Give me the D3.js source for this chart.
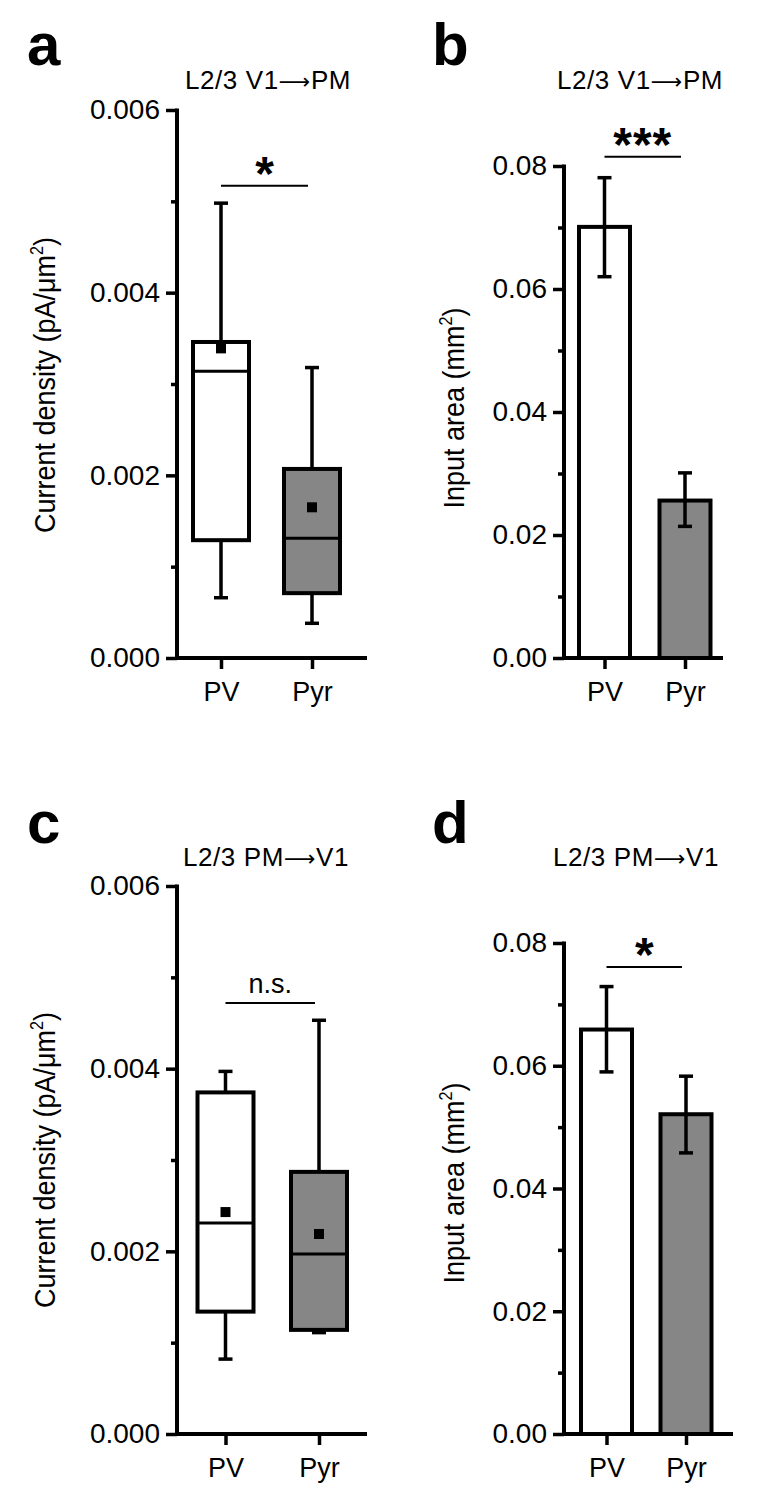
<!DOCTYPE html>
<html><head><meta charset="utf-8">
<script src="https://cdn.jsdelivr.net/npm/d3@7"></script>
<style>body{margin:0;background:#fff} svg{display:block} text{font-family:"Liberation Sans",Arial,sans-serif;fill:#000}</style>
</head><body><svg id="chart" width="759" height="1492"></svg>
<script>
const groups = ["PV", "Pyr"];
// Panel a: box stats (current density, V1->PM)
const aWhiskLow = [0.00066, 0.00038];
const aQ1 = [0.00129, 0.00071];
const aMedian = [0.00314, 0.00131];
const aQ3 = [0.00346, 0.00207];
const aWhiskHigh = [0.00498, 0.00318];
const aMean = [0.00339, 0.00165];
// Panel c: box stats (current density, PM->V1)
const cWhiskLow = [0.00082, 0.00111];
const cQ1 = [0.00134, 0.00114];
const cMedian = [0.00231, 0.00197];
const cQ3 = [0.00374, 0.00287];
const cWhiskHigh = [0.00397, 0.00453];
const cMean = [0.00243, 0.00219];
// Panel b: bars (input area, V1->PM)
const bMean = [0.0701, 0.0256];
const bErrLow = [0.0620, 0.0214];
const bErrHigh = [0.0781, 0.0301];
// Panel d: bars (input area, PM->V1)
const dMean = [0.0659, 0.0521];
const dErrLow = [0.0590, 0.0458];
const dErrHigh = [0.0729, 0.0583];
// Ticks
const densityTicks = [0, 0.002, 0.004, 0.006];
const densityMinor = [0.001, 0.003, 0.005];
const areaTicks = [0, 0.02, 0.04, 0.06, 0.08];
const areaMinor = [0.01, 0.03, 0.05, 0.07];
// Text
const panelLetters = ["a", "b", "c", "d"];
const titleFrom = ["L2/3 V1", "L2/3 V1", "L2/3 PM", "L2/3 PM"];
const titleTo = ["PM", "PM", "V1", "V1"];
const yLabelMain = ["Current density (pA/\u03bcm", "Input area (mm", "Current density (pA/\u03bcm", "Input area (mm"];
const sigLabels = ["*", "***", "n.s.", "*"];
const sigLevels = [0.00517, 0.0815, 0.00472, 0.0761];
const fills = ["#ffffff", "#868686"];

const layout = [
  {left:177,right:367,top:110,bottom:658,pv:221,pyr:312,lx:27,ly:65,tx:268,ty:89,yx:55,yy:385},
  {left:564,right:723,top:166,bottom:658,pv:604.5,pyr:685,lx:432,ly:65,tx:640,ty:89,yx:464,yy:408},
  {left:177,right:367,top:886,bottom:1434,pv:225.5,pyr:319,lx:27,ly:843,tx:266,ty:866,yx:55,yy:1160},
  {left:564,right:733,top:943,bottom:1434,pv:606.5,pyr:686,lx:432,ly:843,tx:636,ty:866,yx:464,yy:1183}
];

const svg = d3.select("#chart");
const SW = 3.5;
const FONT = "Liberation Sans, Arial, sans-serif";

function frame(i, ticks, minor, fmt) {
  const L = layout[i];
  const g = svg.append("g");
  const y = d3.scaleLinear().domain([0, ticks[ticks.length-1]]).range([L.bottom, L.top]);
  const x = d3.scalePoint().domain(groups).range([L.pv, L.pyr]);
  const ya = g.append("g").attr("transform", `translate(${L.left},0)`)
    .call(d3.axisLeft(y).tickValues(ticks).tickSize(11).tickSizeOuter(0).tickPadding(6).tickFormat(d3.format(fmt)));
  ya.select(".domain").remove();
  ya.selectAll("line").attr("stroke-width", SW);
  ya.selectAll("text").attr("font-size", 28).attr("font-family", FONT);
  const ym = g.append("g").attr("transform", `translate(${L.left},0)`)
    .call(d3.axisLeft(y).tickValues(minor).tickSize(6).tickFormat(""));
  ym.select(".domain").remove();
  ym.selectAll("line").attr("stroke-width", SW);
  const xa = g.append("g").attr("transform", `translate(0,${L.bottom})`)
    .call(d3.axisBottom(x).tickSize(11).tickSizeOuter(0).tickPadding(13));
  xa.select(".domain").remove();
  xa.selectAll("line").attr("stroke-width", SW);
  xa.selectAll("text").attr("font-size", 27).attr("font-family", FONT);
  g.append("line").attr("x1", L.left).attr("x2", L.left).attr("y1", y.range()[1] - 1.5).attr("y2", L.bottom)
    .attr("stroke", "#000").attr("stroke-width", 4);
  g.append("line").attr("x1", L.left - 2).attr("x2", L.right).attr("y1", L.bottom).attr("y2", L.bottom)
    .attr("stroke", "#000").attr("stroke-width", 4);
  svg.append("text").attr("x", L.lx).attr("y", L.ly).attr("font-size", 60).attr("font-weight", "bold").text(panelLetters[i]);
  const t = svg.append("text").attr("x", L.tx).attr("y", L.ty).attr("font-size", 26).attr("letter-spacing", 0.6)
    .attr("text-anchor", "middle");
  t.append("tspan").text(titleFrom[i]);
  t.append("tspan").attr("font-family", "DejaVu Sans").attr("font-size", 22).text("\u27f6");
  t.append("tspan").text(titleTo[i]);
  const yl = svg.append("text").attr("transform", `translate(${L.yx},${L.yy}) rotate(-90) scale(0.9,1)`)
    .attr("font-size", 30).attr("text-anchor", "middle");
  yl.append("tspan").text(yLabelMain[i]);
  yl.append("tspan").attr("font-size", 18).attr("dy", -12).text("2");
  yl.append("tspan").attr("dy", 12).text(")");
  const sy = y(sigLevels[i]);
  const x2 = x("Pyr") - 4;
  g.append("line").attr("x1", x("PV")).attr("x2", x2).attr("y1", sy).attr("y2", sy)
    .attr("stroke", "#000").attr("stroke-width", 2);
  const mid = (x("PV") + x2) / 2;
  if (sigLabels[i] === "n.s.") {
    g.append("text").attr("x", mid).attr("y", sy - 10).attr("font-size", 27).attr("text-anchor", "middle").text(sigLabels[i]);
  } else {
    g.append("text").attr("x", mid).attr("y", sy + 4).attr("font-size", 48).attr("font-weight", "bold")
      .attr("letter-spacing", sigLabels[i].length > 1 ? 1 : 0)
      .attr("text-anchor", "middle").text(sigLabels[i]);
  }
  return {g, x, y};
}

function boxPanel(i, lo, q1, med, q3, hi, mean) {
  const {g, x, y} = frame(i, densityTicks, densityMinor, ".3f");
  const bw = 56, cap = 14, ms = 10;
  groups.forEach((k, j) => {
    const cx = x(k);
    const ln = (x1, x2, y1, y2, w) => g.append("line").attr("x1", x1).attr("x2", x2).attr("y1", y1).attr("y2", y2)
      .attr("stroke", "#000").attr("stroke-width", w || SW);
    ln(cx, cx, y(hi[j]), y(q3[j]));
    ln(cx, cx, y(q1[j]), y(lo[j]));
    ln(cx - cap/2, cx + cap/2, y(hi[j]), y(hi[j]));
    ln(cx - cap/2, cx + cap/2, y(lo[j]), y(lo[j]));
    g.append("rect").attr("x", cx - bw/2).attr("width", bw).attr("y", y(q3[j])).attr("height", y(q1[j]) - y(q3[j]))
      .attr("fill", fills[j]).attr("stroke", "#000").attr("stroke-width", 4);
    ln(cx - bw/2, cx + bw/2, y(med[j]), y(med[j]), 3);
    g.append("rect").attr("x", cx - ms/2).attr("y", y(mean[j]) - ms/2).attr("width", ms).attr("height", ms).attr("fill", "#000");
  });
}

function barPanel(i, mean, lo, hi) {
  const {g, x, y} = frame(i, areaTicks, areaMinor, ".2f");
  const bw = 51, cap = 14;
  groups.forEach((k, j) => {
    const cx = x(k);
    g.append("rect").attr("x", cx - bw/2).attr("width", bw).attr("y", y(mean[j])).attr("height", y(0) - y(mean[j]))
      .attr("fill", fills[j]).attr("stroke", "#000").attr("stroke-width", 4);
    const ln = (x1, x2, y1, y2) => g.append("line").attr("x1", x1).attr("x2", x2).attr("y1", y1).attr("y2", y2)
      .attr("stroke", "#000").attr("stroke-width", SW);
    ln(cx, cx, y(hi[j]), y(lo[j]));
    ln(cx - cap/2, cx + cap/2, y(hi[j]), y(hi[j]));
    ln(cx - cap/2, cx + cap/2, y(lo[j]), y(lo[j]));
  });
}

boxPanel(0, aWhiskLow, aQ1, aMedian, aQ3, aWhiskHigh, aMean);
barPanel(1, bMean, bErrLow, bErrHigh);
boxPanel(2, cWhiskLow, cQ1, cMedian, cQ3, cWhiskHigh, cMean);
barPanel(3, dMean, dErrLow, dErrHigh);
</script></body></html>
